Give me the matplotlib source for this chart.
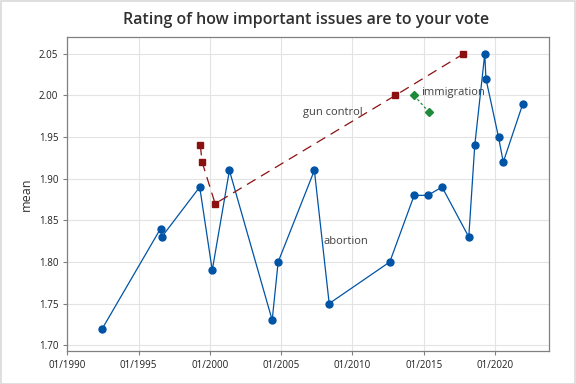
import matplotlib
matplotlib.use("Agg")
import matplotlib.pyplot as plt
import matplotlib.dates as mdates
import pandas as pd

plt.rcParams['font.family'] = ['Open Sans', 'DejaVu Sans']

# abortion
ab_dates = ["1992-06-15", "1996-07-15", "1996-08-15", "1999-04-15", "2000-03-01",
            "2001-05-15", "2004-05-15", "2004-10-15", "2007-05-01", "2008-05-15",
            "2012-08-15", "2014-05-01", "2015-04-15", "2016-04-15", "2018-03-01",
            "2018-08-01", "2019-04-15", "2019-05-15", "2020-04-01", "2020-08-01",
            "2021-12-15"]
ab_vals = [1.72, 1.84, 1.83, 1.89, 1.79, 1.91, 1.73, 1.80, 1.91, 1.75,
           1.80, 1.88, 1.88, 1.89, 1.83, 1.94, 2.05, 2.02, 1.95, 1.92, 1.99]

# gun control
gc_dates = ["1999-05-01", "1999-06-15", "2000-05-15", "2013-01-01", "2017-10-15"]
gc_vals = [1.94, 1.92, 1.87, 2.00, 2.05]

# immigration
im_dates = ["2014-05-01", "2015-05-15"]
im_vals = [2.00, 1.98]

yticks = [1.70, 1.75, 1.80, 1.85, 1.90, 1.95, 2.00, 2.05]
xtick_years = [1990, 1995, 2000, 2005, 2010, 2015, 2020]

fig = plt.figure(figsize=(5.76, 3.84), dpi=100)
ax = fig.add_axes([0.117, 0.086, 0.836, 0.817])

ax.plot(pd.to_datetime(ab_dates), ab_vals, color='#0054A6', lw=0.9,
        marker='o', ms=5, zorder=3)
ax.plot(pd.to_datetime(gc_dates), gc_vals, color='#8B1111', lw=0.9,
        ls=(0, (8, 5)), marker='s', ms=5, zorder=3)
ax.plot(pd.to_datetime(im_dates), im_vals, color='#1E8B3A', lw=0.9,
        ls=(0, (2, 2)), marker='D', ms=4.5, zorder=3)

ax.text(pd.Timestamp("2010-09-15"), 1.98, "gun control", ha='right', va='center',
        fontsize=8, color='#404040')
ax.text(pd.Timestamp("2014-11-01"), 2.004, "immigration", ha='left', va='center',
        fontsize=8, color='#404040')
ax.text(pd.Timestamp("2008-01-01"), 1.824, "abortion", ha='left', va='center',
        fontsize=8, color='#404040')

ax.set_xlim(pd.Timestamp("1990-01-01"), pd.Timestamp("2023-10-15"))
ax.set_ylim(1.693, 2.07)
ax.set_yticks(yticks)
ax.set_yticklabels([f"{v:.2f}" for v in yticks])
ax.set_xticks([pd.Timestamp(f"{y}-01-01") for y in xtick_years])
ax.xaxis.set_major_formatter(mdates.DateFormatter("%m/%Y"))
ax.tick_params(labelsize=7, labelcolor='#202020', length=3, width=0.8, color='#808080')
ax.grid(True, color='#E3E3E3', lw=0.8)
ax.set_axisbelow(True)
for s in ax.spines.values():
    s.set_color('#808080')
    s.set_linewidth(0.9)

ax.set_ylabel("mean", fontsize=9, color='#303030')
fig.text(0.531, 0.948, "Rating of how important issues are to your vote",
         ha='center', va='center', fontsize=11.5, fontweight='semibold', color='#303030')

fig.patches.append(plt.Rectangle((0.001, 0.001), 0.997, 0.997, transform=fig.transFigure,
                                 fill=False, edgecolor='#D9D9D9', lw=1.2))

fig.savefig("out.png", dpi=100)
